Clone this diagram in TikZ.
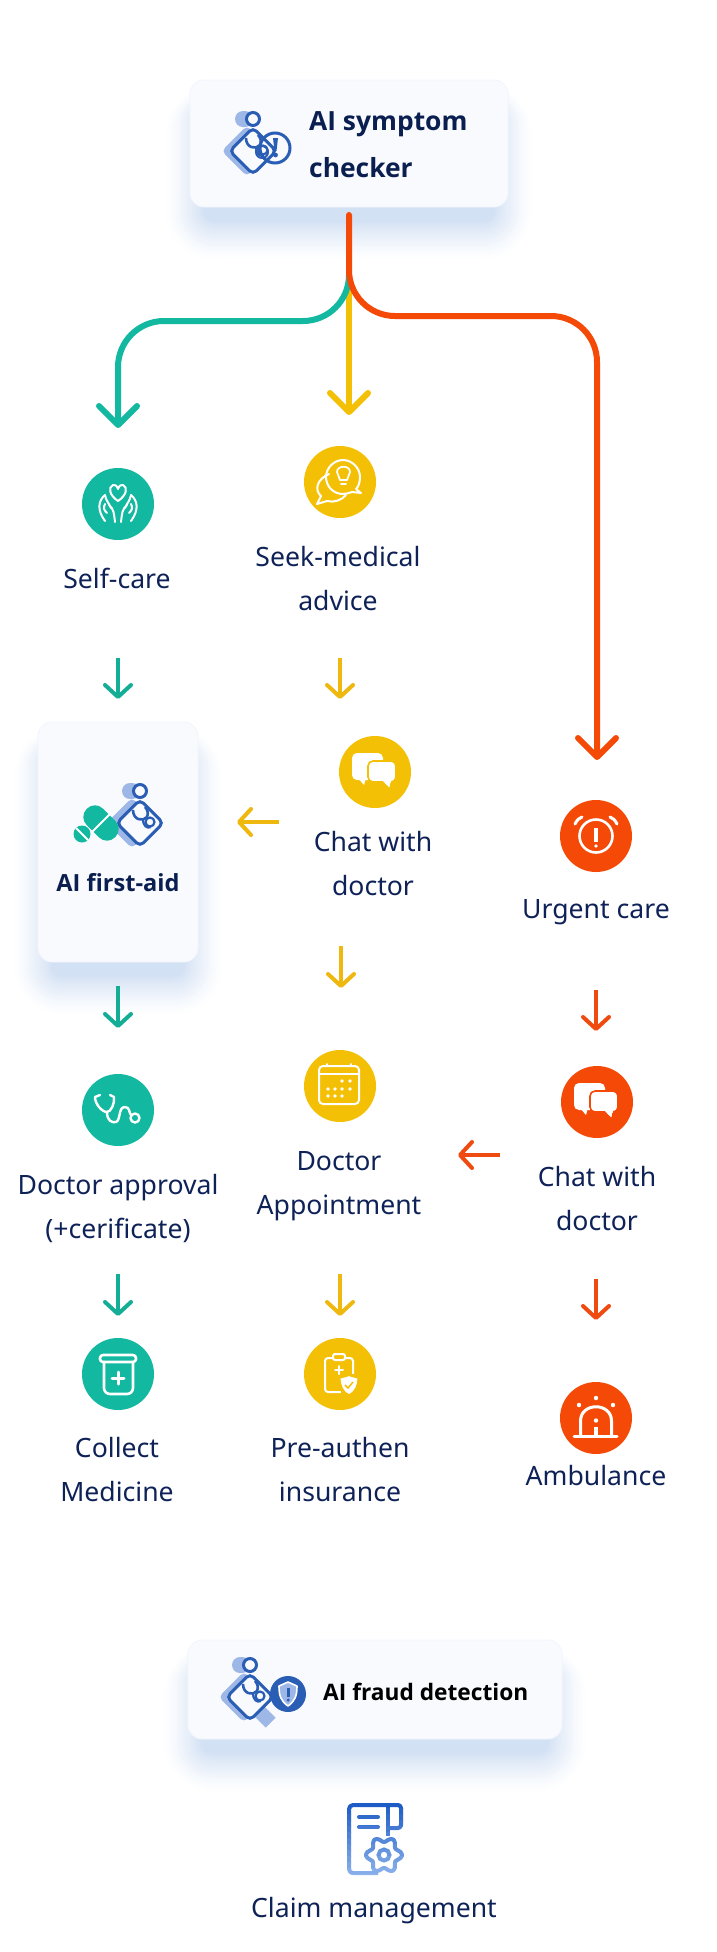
\documentclass[tikz,border=0pt]{standalone}
\usepackage{fontspec}
\setmainfont{Noto Sans}
\newfontfamily\cardfont{Open Sans}
\usetikzlibrary{arrows.meta}
\definecolor{navy}{HTML}{0F2258}
\definecolor{navyb}{HTML}{0A1F50}
\definecolor{cgreen}{HTML}{12B8A0}
\definecolor{cyellow}{HTML}{F4C005}
\definecolor{corange}{HTML}{F54A07}
\definecolor{sgreen}{HTML}{14AE96}
\definecolor{syellow}{HTML}{EFB80E}
\definecolor{sorange}{HTML}{EF4A10}
\definecolor{cardfill}{HTML}{F9FAFE}
\definecolor{cardedge}{HTML}{F1F5FD}
\definecolor{shadowblue}{HTML}{D3E1F4}
\definecolor{logoblue}{HTML}{2A5DB4}
\definecolor{logolight}{HTML}{9DB8E6}
\definecolor{claimt}{HTML}{1D5CC6}
\definecolor{claimb}{HTML}{8FB4EC}
\tikzset{
  x=1pt,y=-1pt,
  card/.style={draw=cardedge,line width=.8pt,fill=cardfill,rounded corners=14pt,inner sep=0pt},
  disc/.style={circle,minimum size=72pt,inner sep=0pt},
  lbl/.style={inner sep=0pt,text=navy,align=center,font=\fontsize{26.6}{44}\selectfont},
  cardlbl/.style={inner sep=0pt,text=navyb,font=\cardfont\fontsize{26.4}{47}\selectfont\bfseries},
  bigarrow/.style={line width=6pt,line cap=round,line join=round,-{Straight Barb[length=19pt,width=38pt,round]}},
  smallarrow/.style={line width=4pt,-{Straight Barb[length=12pt,width=26pt,round]}},
  ico/.style={draw=white,line width=2pt,line cap=round,line join=round},
}
\newcommand{\softshadow}[4]{%
  \foreach \e in {33,31.5,...,-6}{
    \pgfmathsetmacro\rr{max(2,16+\e)}
    \pgfmathsetmacro\pct{100*((33-\e)/39)^1.3}
    \colorlet{layerc}{shadowblue!\pct!white}
    \fill[layerc,rounded corners=\rr pt]
      ({#1+8-\e},{#2+22-\e*.5}) rectangle ({#3-8+\e},{#4+20+\e});
  }}
\newcommand{\logomark}[1]{%
  \fill[logolight,rounded corners=8pt] (-18,-40) rectangle (0,-24);
  \begin{scope}[shift={(-#1,0)},rotate=45]
    \fill[logolight,rounded corners=5pt] (-18,-18) rectangle (18,18);
  \end{scope}
  \begin{scope}[rotate=45]
    \filldraw[draw=logoblue,fill=cardfill,line width=3pt,rounded corners=5pt] (-16.5,-16.5) rectangle (16.5,16.5);
  \end{scope}
  \filldraw[draw=logoblue,fill=cardfill,line width=3pt] (0,-32) circle (6.5);
  \draw[logoblue,line width=2.6pt] (-7,-13) .. controls (-7,-3) and (3,-1) .. (7,-6) .. controls (9,-10) and (7,-14) .. (5,-16);
  \draw[logoblue,line width=2.2pt] (3,-4) .. controls (3,3) and (7,6) .. (11,4);
  \draw[logoblue,line width=2.2pt] (10,-1) circle (4.5);
}
\begin{document}
\begin{tikzpicture}
\useasboundingbox (0,0) rectangle (716,1952);
\fill[white] (0,0) rectangle (716,1952);

% --- cards ---
\softshadow{190}{80}{508}{207}
\softshadow{38}{722}{198}{962}
\softshadow{188}{1640}{562}{1739}
\node[card,minimum width=318pt,minimum height=127pt] (checker) at (349,143.5) {};
\node[card,minimum width=160pt,minimum height=240pt] (firstaid) at (118,842) {};
\node[card,minimum width=374pt,minimum height=99pt] (fraud) at (375,1689.5) {};

\node[cardlbl,anchor=west,align=left] (checkertxt) at (309,144.5) {AI symptom\\checker};
\node[cardlbl,font=\cardfont\fontsize{23.6}{30}\selectfont\bfseries] (firstaidtxt) at (118,883) {AI first-aid};
\node[cardlbl,text=black,anchor=west,font=\cardfont\fontsize{22.7}{30}\selectfont\bfseries] (fraudtxt) at (323,1692) {AI fraud detection};

% --- card icons ---
\begin{scope}[shift={(253,151)}]
  \logomark{6}
  \draw[logoblue,line width=2pt] (9,1) circle (6);
  \draw[logoblue,line width=3pt] (22,-3) circle (15);
  \fill[logoblue] (20,-13) -- (25,-13) -- (23.5,0) -- (21.5,0) -- cycle;
  \fill[logoblue] (22.5,4) circle (2.4);
\end{scope}
\begin{scope}[shift={(140,823)}]
  \logomark{8}
  \begin{scope}[shift={(-39,0)},rotate=-45]
    \fill[cgreen,rounded corners=11pt] (-20,-11.5) rectangle (20,11.5);
    \draw[white,line width=2pt] (0,-13) -- (0,13);
  \end{scope}
  \fill[cgreen] (-58,11) circle (8.5);
  \draw[white,line width=1.8pt] (-64,5) -- (-52,17);
\end{scope}
\begin{scope}[shift={(250,1697)}]
  \begin{scope}[shift={(15,20)},rotate=45]
    \fill[logolight] (-7,-8) rectangle (7,8);
  \end{scope}
  \logomark{6}
  \fill[logoblue] (38,-3) circle (18);
  \draw[white,line width=1.6pt,fill=logolight,line join=round] (38,-15) -- (47,-11) .. controls (47,-1) and (45,4) .. (38,9) .. controls (31,4) and (29,-1) .. (29,-11) -- cycle;
  \fill[logoblue] (37,-9) rectangle (39.5,0);
  \fill[logoblue] (38.2,3) circle (1.7);
\end{scope}

% --- discs ---
\node[disc,fill=cgreen] (selfcare) at (118,504) {};
\node[disc,fill=cyellow] (seek) at (340,482) {};
\node[disc,fill=cyellow] (chaty) at (375,772) {};
\node[disc,fill=corange] (urgent) at (596,836) {};
\node[disc,fill=corange] (chato) at (597,1102) {};
\node[disc,fill=cgreen] (approval) at (118,1110) {};
\node[disc,fill=cyellow] (appoint) at (340,1086) {};
\node[disc,fill=cgreen] (medicine) at (118,1374) {};
\node[disc,fill=cyellow] (preauth) at (340,1374) {};
\node[disc,fill=corange] (ambulance) at (596,1418) {};

% --- labels ---
\node[lbl] (selfcaretxt) at (117,578) {Self-care};
\node[lbl] (seektxt) at (338,579) {Seek-medical\\advice};
\node[lbl] (chatytxt) at (373,864) {Chat with\\doctor};
\node[lbl] (urgenttxt) at (596,912) {Urgent care};
\node[lbl] (chatotxt) at (597,1199) {Chat with\\doctor};
\node[lbl] (approvaltxt) at (118,1208) {Doctor approval\\(+cerificate)};
\node[lbl] (appointtxt) at (339,1186) {Doctor\\Appointment};
\node[lbl] (medicinetxt) at (117,1470) {Collect\\Medicine};
\node[lbl] (preauthtxt) at (340,1470) {Pre-authen\\insurance};
\node[lbl] (ambulancetxt) at (596,1476) {Ambulance};
\node[lbl] (claimtxt) at (374,1911) {Claim management};

% --- connectors ---
\coordinate (trunk) at (349,215);
\coordinate (ytop) at (349,285);
\coordinate (gtop) at (349,275);
\coordinate (ytip) at (349,415);
\coordinate (gtip) at (118,428);
\coordinate (otip) at (597,760);
\coordinate (gbend1) at (349,321);
\coordinate (gbend2) at (118,321);
\coordinate (obend1) at (349,316);
\coordinate (obend2) at (597,316);
\draw[bigarrow,cyellow] (ytop) -- (ytip);
\draw[bigarrow,cgreen,rounded corners=46pt] (gtop) -- (gbend1) -- (gbend2) -- (gtip);
\draw[bigarrow,corange,rounded corners=46pt] (trunk) -- (obend1) -- (obend2) -- (otip);

\foreach \n/\x/\ya/\yb/\c in {ga/118/658/699/sgreen,gb/118/986/1028/sgreen,gc/118/1274/1316/sgreen,
   ya/340/658/699/syellow,yb/341/946/988/syellow,yc/340/1274/1316/syellow,
   oa/596/990/1031/sorange,ob/596/1279/1320/sorange}{
  \coordinate (\n s) at (\x,\ya);
  \coordinate (\n e) at (\x,\yb);
  \draw[smallarrow,\c] (\n s) -- (\n e);
}
\coordinate (yls) at (279,822); \coordinate (yle) at (237,822);
\draw[smallarrow,syellow] (yls) -- (yle);
\coordinate (ols) at (500,1155); \coordinate (ole) at (458,1155);
\draw[smallarrow,sorange] (ols) -- (ole);

% --- disc icons ---
% self care
\begin{scope}[shift={(118,504)}]
  \draw[ico] (0,-3) .. controls (-9,-9) and (-10,-17) .. (-5,-19) .. controls (-3,-20) and (-1,-18) .. (0,-15) .. controls (1,-18) and (3,-20) .. (5,-19) .. controls (10,-17) and (9,-9) .. (0,-3) -- cycle;
  \foreach \s in {1,-1}{
    \begin{scope}[xscale=\s]
      \draw[ico] (-13,-9) .. controls (-20,-3) and (-21,6) .. (-13,17);
      \draw[ico] (-13,-9) .. controls (-12,-3) and (-9,-1) .. (-7,4);
      \draw[ico] (-13,0) .. controls (-15,4) and (-14,6) .. (-11,9);
      \draw[ico] (-3,18) .. controls (-4,10) and (-4,5) .. (-9,1);
    \end{scope}
  }
\end{scope}
% seek advice
\begin{scope}[shift={(340,482)}]
  \draw[ico] (-11,-8) .. controls (-23,-3) and (-26,8) .. (-19,14) -- (-23,22) -- (-13,19) .. controls (-6,21) and (2,18) .. (6,13);
  \draw[ico] (3,12) .. controls (-7,12) and (-14,4) .. (-14,-5) .. controls (-14,-14) and (-6,-22) .. (3,-22) .. controls (12,-22) and (20,-14) .. (20,-5) .. controls (20,1) and (18,5) .. (16,7) -- (21,11) -- (12,10) .. controls (9,11) and (6,12) .. (3,12) -- cycle;
  \draw[ico,line width=1.7pt] (0,-2) .. controls (0,-5) and (-3,-7) .. (-3,-10) .. controls (-3,-17) and (10,-17) .. (10,-10) .. controls (10,-7) and (7,-5) .. (7,-2) -- cycle;
  \draw[ico,line width=1.7pt] (1,2) -- (6,2);
\end{scope}
% chat (yellow and orange)
\foreach \cx/\cy/\cc in {375/772/cyellow,597/1102/corange}{
  \begin{scope}[shift={(\cx,\cy)}]
    \fill[white,rounded corners=5pt] (-23,-19) rectangle (8,8);
    \fill[white] (-17,6) -- (-9,6) -- (-11,13) -- cycle;
    \filldraw[draw=\cc,fill=white,line width=1.6pt,rounded corners=5pt] (-7,-11) rectangle (21,10);
    \fill[white] (8,9) -- (16,9) -- (15,17) -- cycle;
    \draw[\cc,line width=1.4pt] (8,11) -- (15,17) -- (16,11);
  \end{scope}
}
% alarm clock
\begin{scope}[shift={(596,836)}]
  \draw[ico,line width=2.6pt] (0,0) circle (16.5);
  \draw[ico,line width=3pt] (-21,-12) .. controls (-19,-16) and (-17,-18) .. (-14,-19);
  \draw[ico,line width=3pt] (21,-12) .. controls (19,-16) and (17,-18) .. (14,-19);
  \fill[white] (-1.6,-8) rectangle (1.6,6);
  \fill[white] (0,10) circle (1.9);
\end{scope}
% calendar
\begin{scope}[shift={(340,1086)}]
  \draw[ico,rounded corners=4pt] (-21,-20) rectangle (19,18);
  \draw[ico] (-21,-12) -- (19,-12);
  \draw[ico] (-13,-22) -- (-13,-20);
  \draw[ico] (11,-22) -- (11,-20);
  \foreach \x/\y in {2/-5,10/-5,-12/3,-5/3,2/3,10/3,-12/10,-5/10,2/10}{
    \fill[white] (\x,\y) circle (1.9);
  }
\end{scope}
% stethoscope
\begin{scope}[shift={(118,1110)}]
  \draw[ico,line width=2.4pt] (-18,-15) -- (-23,-13) .. controls (-23,-6) and (-16,2) .. (-11,2) .. controls (-7,2) and (-3,-7) .. (-4,-13) -- (-8,-15);
  \draw[ico,line width=2.4pt] (-11,2) .. controls (-11,11) and (-6,13) .. (-2,12) .. controls (3,10) and (0,-3) .. (7,-3) .. controls (12,-3) and (11,3) .. (13,5);
  \draw[ico,line width=2.4pt] (17,8) circle (4.5);
\end{scope}
% medicine jar
\begin{scope}[shift={(118,1374)}]
  \draw[ico,line width=2.6pt,rounded corners=3pt] (-18,-19) rectangle (18,-12);
  \draw[ico,line width=2.6pt,rounded corners=6pt] (-14,-12) -- (-14,20) -- (15,20) -- (15,-12);
  \draw[ico,line width=3pt] (-6,4) -- (6,4);
  \draw[ico,line width=3pt] (0,-2) -- (0,10);
\end{scope}
% pre-authen clipboard
\begin{scope}[shift={(340,1374)}]
  \draw[ico,rounded corners=3pt] (-15,-16) rectangle (13,18);
  \filldraw[ico,fill=cyellow,rounded corners=2pt] (-7,-20) rectangle (5,-14);
  \draw[ico] (-5,-4) -- (3,-4);
  \draw[ico] (-1,-8) -- (-1,0);
  \fill[cyellow] (1,0) rectangle (18,22);
  \filldraw[draw=cyellow,line width=1.2pt,fill=white,line join=round] (9,1.5) -- (18,4) .. controls (18,12) and (15,18) .. (9,21) .. controls (3,18) and (0,12) .. (0,4) -- cycle;
  \draw[cyellow,line width=1.5pt] (5,11) -- (8,14) -- (13,8);
\end{scope}
% ambulance siren
\begin{scope}[shift={(596,1418)}]
  \draw[ico,line width=3pt] (-22,18) -- (21,18);
  \draw[ico,line width=3pt] (-15.5,18) -- (-15.5,3) .. controls (-15.5,-16) and (15.5,-16) .. (15.5,3) -- (15.5,18);
  \fill[white] (-1.7,9) rectangle (1.7,17);
  \fill[white] (0,2.5) circle (2.2);
  \fill[white] (0,-20) circle (2.2);
  \fill[white] (-17,-13) circle (2.2);
  \fill[white] (17,-13) circle (2.2);
\end{scope}
% claim management icon (vertical colour fade drawn in bands)
\node[inner sep=0pt,minimum width=56pt,minimum height=72pt] (claim) at (375,1840) {};
\foreach \i in {0,...,12}{
  \pgfmathsetmacro\pct{\i*100/12}
  \begin{scope}
    \clip (340,{1802+\i*6}) rectangle (412,{1808.3+\i*6});
    \colorlet{bandc}{claimb!\pct!claimt}
    \draw[bandc,line width=4pt,line join=round,rounded corners=4pt] (388,1805) -- (349,1805) -- (349,1873) -- (378,1873);
    \draw[bandc,line width=4pt,line join=round,rounded corners=3pt] (388,1805) -- (401,1805) -- (401,1828) -- (388,1828);
    \draw[bandc,line width=4pt] (388,1805) -- (388,1836);
    \draw[bandc,line width=4pt,line cap=round] (359,1817) -- (378,1817);
    \draw[bandc,line width=4pt,line cap=round] (359,1827) -- (378,1827);
    \filldraw[draw=bandc,fill=white,line width=4pt,line join=round] plot[domain=0:354,samples=60,smooth cycle] ({384+(15.5+2.5*cos(6*\x))*cos(\x)},{1855+(15.5+2.5*cos(6*\x))*sin(\x)});
    \draw[bandc,line width=4pt] (384,1855) circle (5.5);
  \end{scope}
}
\end{tikzpicture}
\end{document}
